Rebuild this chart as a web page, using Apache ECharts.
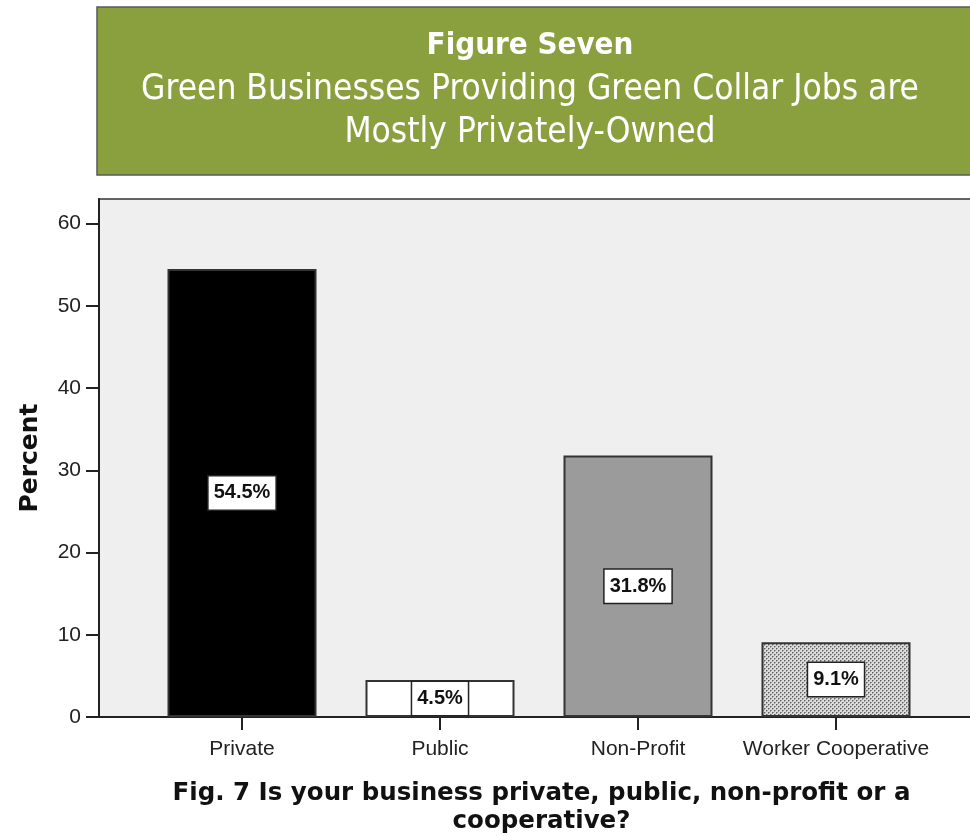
<!DOCTYPE html>
<html>
<head>
<meta charset="utf-8">
<script src="https://cdn.jsdelivr.net/npm/echarts@6/dist/echarts.min.js"></script>
<style>
  html, body { margin: 0; padding: 0; background: #fff; }
  #chart { width: 970px; height: 836px; }
</style>
</head>
<body>
<div id="chart"></div>
<script>
// data
const categories = ['Private', 'Public', 'Non-Profit', 'Worker Cooperative']
const percents = [54.5, 4.5, 31.8, 9.1]
const yTicks = [0, 10, 20, 30, 40, 50, 60]
const titleLines = ['Figure Seven', 'Green Businesses Providing Green Collar Jobs are', 'Mostly Privately-Owned']
const xTitle = 'Fig. 7 Is your business private, public, non-profit or a\ncooperative?'

// small dotted pattern for the cooperative bar
const dots = document.createElement('canvas')
dots.width = 4
dots.height = 4
const ctx = dots.getContext('2d')
ctx.fillStyle = '#dcdcdc'
ctx.fillRect(0, 0, 4, 4)
ctx.fillStyle = '#606060'
ctx.fillRect(0, 0, 1, 1)
ctx.fillRect(2, 2, 1, 1)
ctx.fillStyle = '#9a9a9a'
ctx.fillRect(1, 0, 1, 1)
ctx.fillRect(3, 2, 1, 1)
ctx.fillRect(0, 1, 1, 1)
ctx.fillRect(2, 3, 1, 1)

const fills = ['#000000', '#ffffff', '#9b9b9b', {image: dots, repeat: 'repeat'}]

const chart = echarts.init(document.getElementById('chart'))
const font = 'Arial, "Liberation Sans", sans-serif'
const boldFont = '"DejaVu Sans", Verdana, sans-serif'
const headFont = '"Liberation Sans Narrow", "DejaVu Sans Condensed", sans-serif'

const option = {
  animation: false,
  backgroundColor: '#ffffff',
  graphic: [
    {
      type: 'rect',
      shape: {x: 97, y: 7, width: 890, height: 168},
      style: {fill: '#8a9f3d', stroke: '#5a5a5a', lineWidth: 1.5},
      z: 1
    },
    {
      type: 'text', x: 530, y: 46, z: 2,
      style: {text: titleLines[0], fill: '#fff', font: 'bold 31px ' + headFont, align: 'center', verticalAlign: 'middle'}
    },
    {
      type: 'text', x: 530, y: 90, z: 2,
      style: {text: titleLines[1], fill: '#fff', font: '35px ' + headFont, align: 'center', verticalAlign: 'middle'}
    },
    {
      type: 'text', x: 530, y: 133, z: 2,
      style: {text: titleLines[2], fill: '#fff', font: '35px ' + headFont, align: 'center', verticalAlign: 'middle'}
    }
  ],
  grid: [
    // frame + y axis
    {left: 99, top: 199, width: 885, height: 518, outerBoundsMode: 'none', show: true, backgroundColor: '#efefef', borderColor: '#333', borderWidth: 1.5},
    // bars
    {left: 143, top: 199, width: 792, height: 518, outerBoundsMode: 'none'}
  ],
  xAxis: [
    {
      gridIndex: 0, type: 'value', min: 0, max: 1,
      axisLine: {show: true, lineStyle: {color: '#222', width: 2}},
      axisTick: {show: false}, axisLabel: {show: false}, splitLine: {show: false},
      name: xTitle, nameLocation: 'middle', nameGap: 63,
      nameTextStyle: {fontFamily: boldFont, fontWeight: 'bold', fontSize: 24.5, color: '#111', lineHeight: 28}
    },
    {
      gridIndex: 1, type: 'category', data: categories,
      axisLine: {show: false},
      axisTick: {show: true, interval: 0, alignWithLabel: true, length: 13, lineStyle: {color: '#222', width: 2}},
      axisLabel: {interval: 0, hideOverlap: false, fontFamily: font, fontSize: 21, color: '#222', margin: 22}
    }
  ],
  yAxis: [
    {
      gridIndex: 0, type: 'value', min: 0, max: 63, interval: 10,
      axisLine: {show: true, lineStyle: {color: '#222', width: 2}},
      axisTick: {show: true, length: 13, lineStyle: {color: '#222', width: 2}, customValues: yTicks},
      axisLabel: {fontFamily: font, fontSize: 21, color: '#222', margin: 18, customValues: yTicks},
      splitLine: {show: false},
      name: 'Percent', nameLocation: 'middle', nameGap: 56, nameRotate: 90,
      nameTextStyle: {fontFamily: boldFont, fontWeight: 'bold', fontSize: 25, color: '#111'}
    },
    {gridIndex: 1, type: 'value', min: 0, max: 63, show: false}
  ],
  series: [
    {
      type: 'bar', xAxisIndex: 1, yAxisIndex: 1,
      barWidth: 149,
      data: percents.map((v, i) => ({value: v, itemStyle: {color: fills[i]}})),
      itemStyle: {borderColor: '#333', borderWidth: 2},
      label: {
        show: true, position: 'inside',
        formatter: p => p.value.toFixed(1) + '%',
        fontFamily: font, fontWeight: 'bold', fontSize: 20, color: '#111',
        backgroundColor: '#fff', borderColor: '#222', borderWidth: 1.5,
        padding: [7, 5, 6, 5]
      }
    }
  ]
}

chart.setOption(option)
</script>
</body>
</html>
